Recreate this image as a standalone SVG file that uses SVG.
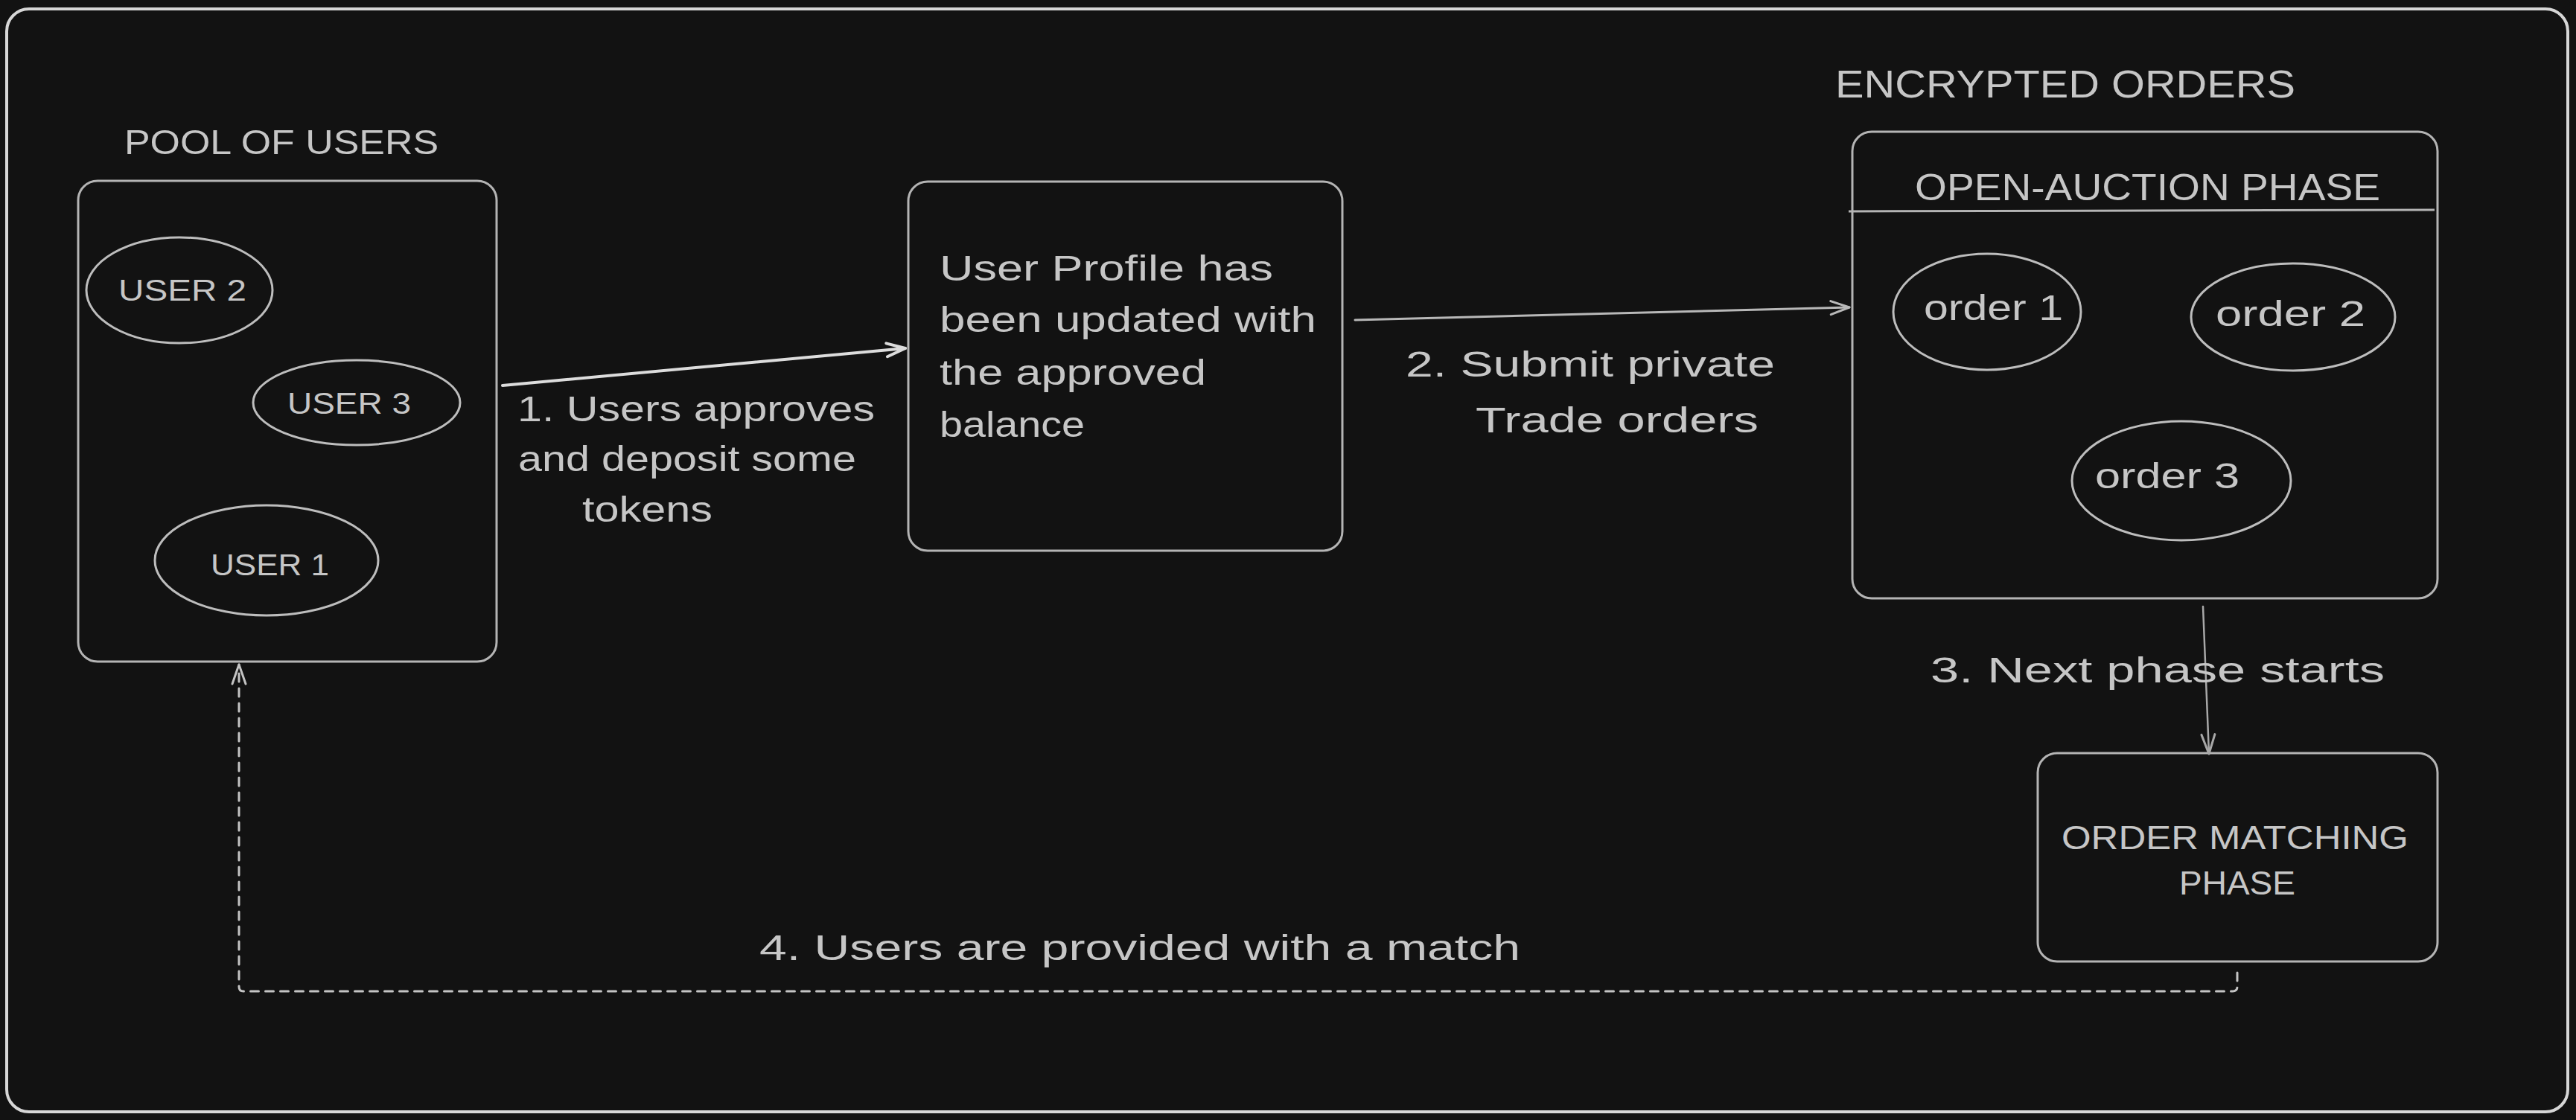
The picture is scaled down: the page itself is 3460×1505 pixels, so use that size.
<svg xmlns="http://www.w3.org/2000/svg" width="3460" height="1505" viewBox="0 0 3460 1505">
<defs>
<style>
.bg{fill:#121212}
.frame{fill:none;stroke:#d6d6d6;stroke-width:4}
.box{fill:none;stroke:#b4b4b4;stroke-width:3}
.ell{fill:none;stroke:#bdbdbd;stroke-width:3}
.t{font-family:"Liberation Sans","Noto Sans",sans-serif;fill:#c6c6c6}
.lbl{font-size:48px}
.cap{font-size:46px}
.small{font-size:40px}
.conn{fill:none;stroke-linecap:round;stroke-linejoin:round}
.c1{stroke:#dcdcdc;stroke-width:4}
.c2{stroke:#b8b8b8;stroke-width:3}
.c3{stroke:#a8a8a8;stroke-width:2.5}
.dash{stroke:#c4c4c4;stroke-width:3;stroke-dasharray:11 9}
</style>
<marker id="ah1" markerUnits="userSpaceOnUse" viewBox="-30 -15 34 30" refX="0" refY="0" markerWidth="34" markerHeight="30" orient="auto">
<path d="M-25,-9 L0,0 L-25,9" fill="none" stroke="#dcdcdc" stroke-width="4" stroke-linecap="round" stroke-linejoin="round"/>
</marker>
<marker id="ah2" markerUnits="userSpaceOnUse" viewBox="-30 -15 34 30" refX="0" refY="0" markerWidth="34" markerHeight="30" orient="auto">
<path d="M-25,-9 L0,0 L-25,9" fill="none" stroke="#b8b8b8" stroke-width="3" stroke-linecap="round" stroke-linejoin="round"/>
</marker>
<marker id="ah3" markerUnits="userSpaceOnUse" viewBox="-30 -15 34 30" refX="0" refY="0" markerWidth="34" markerHeight="30" orient="auto">
<path d="M-26,-9 L0,0 L-26,9" fill="none" stroke="#a8a8a8" stroke-width="3" stroke-linecap="round" stroke-linejoin="round"/>
</marker>
<marker id="ah4" markerUnits="userSpaceOnUse" viewBox="-30 -15 34 30" refX="0" refY="0" markerWidth="34" markerHeight="30" orient="auto">
<path d="M-26,-9 L0,0 L-26,9" fill="none" stroke="#c4c4c4" stroke-width="3" stroke-linecap="round" stroke-linejoin="round"/>
</marker>
</defs>
<rect class="bg" x="0" y="0" width="3460" height="1505"/>
<rect class="frame" x="9" y="12" width="3440" height="1482" rx="30"/>

<g id="pool">
<text class="t cap" x="167" y="207" textLength="422" lengthAdjust="spacingAndGlyphs">POOL OF USERS</text>
<rect class="box" x="105" y="243" width="562" height="646" rx="26"/>
</g>
<g id="user2">
<ellipse class="ell" cx="241" cy="390" rx="125" ry="71"/>
<text class="t small" x="159" y="404" textLength="172" lengthAdjust="spacingAndGlyphs">USER 2</text>
</g>
<g id="user3">
<ellipse class="ell" cx="479" cy="541" rx="139" ry="57"/>
<text class="t small" x="386" y="556" textLength="166" lengthAdjust="spacingAndGlyphs">USER 3</text>
</g>
<g id="user1">
<ellipse class="ell" cx="358" cy="753" rx="150" ry="74"/>
<text class="t small" x="283" y="773" textLength="159" lengthAdjust="spacingAndGlyphs">USER 1</text>
</g>

<g id="profile">
<rect class="box" x="1220" y="244" width="583" height="496" rx="26"/>
<text class="t lbl" x="1262" y="377" textLength="448" lengthAdjust="spacingAndGlyphs">User Profile has</text>
<text class="t lbl" x="1262" y="446" textLength="506" lengthAdjust="spacingAndGlyphs">been updated with</text>
<text class="t lbl" x="1262" y="517" textLength="358" lengthAdjust="spacingAndGlyphs">the approved</text>
<text class="t lbl" x="1262" y="587" textLength="195" lengthAdjust="spacingAndGlyphs">balance</text>
</g>

<g id="encrypted">
<text class="t cap" x="2465" y="131" textLength="618" lengthAdjust="spacingAndGlyphs" style="font-size:52px">ENCRYPTED ORDERS</text>
<rect class="box" x="2488" y="177" width="786" height="627" rx="26"/>
<line class="box" x1="2483" y1="284" x2="3270" y2="282"/>
<text class="t cap" x="2572" y="269" textLength="625" lengthAdjust="spacingAndGlyphs" style="font-size:50px">OPEN-AUCTION PHASE</text>
</g>
<g id="order1">
<ellipse class="ell" cx="2669" cy="419" rx="126" ry="78"/>
<text class="t lbl" x="2584" y="430" textLength="187" lengthAdjust="spacingAndGlyphs">order 1</text>
</g>
<g id="order2">
<ellipse class="ell" cx="3080" cy="426" rx="137" ry="72"/>
<text class="t lbl" x="2976" y="438" textLength="201" lengthAdjust="spacingAndGlyphs">order 2</text>
</g>
<g id="order3">
<ellipse class="ell" cx="2930" cy="646" rx="147" ry="80"/>
<text class="t lbl" x="2814" y="656" textLength="194" lengthAdjust="spacingAndGlyphs">order 3</text>
</g>

<g id="matching">
<rect class="box" x="2737" y="1012" width="537" height="280" rx="26"/>
<text class="t cap" x="2769" y="1141" textLength="466" lengthAdjust="spacingAndGlyphs" style="font-size:45px">ORDER MATCHING</text>
<text class="t cap" x="2927" y="1202" textLength="156" lengthAdjust="spacingAndGlyphs" style="font-size:45px">PHASE</text>
</g>

<g id="connectors">
<line class="conn c1" x1="675" y1="518" x2="1216" y2="468" marker-end="url(#ah1)"/>
<line class="conn c2" x1="1820" y1="430" x2="2484" y2="413" marker-end="url(#ah2)"/>
<line class="conn c3" x1="2959" y1="815" x2="2967" y2="1013" marker-end="url(#ah3)"/>
<path class="conn dash" d="M3005,1307 L3005,1326 Q3005,1332 2999,1332 L327,1332 Q321,1332 321,1326 L321,893" marker-end="url(#ah4)"/>
</g>

<g id="labels">
<text class="t lbl" x="695" y="566" textLength="480" lengthAdjust="spacingAndGlyphs">1. Users approves</text>
<text class="t lbl" x="696" y="633" textLength="454" lengthAdjust="spacingAndGlyphs">and deposit some</text>
<text class="t lbl" x="782" y="701" textLength="175" lengthAdjust="spacingAndGlyphs">tokens</text>
<text class="t lbl" x="1888" y="506" textLength="496" lengthAdjust="spacingAndGlyphs">2. Submit private</text>
<text class="t lbl" x="1982" y="581" textLength="380" lengthAdjust="spacingAndGlyphs">Trade orders</text>
<text class="t lbl" x="2593" y="917" textLength="610" lengthAdjust="spacingAndGlyphs">3. Next phase starts</text>
<text class="t lbl" x="1020" y="1290" textLength="1022" lengthAdjust="spacingAndGlyphs">4. Users are provided with a match</text>
</g>
</svg>
